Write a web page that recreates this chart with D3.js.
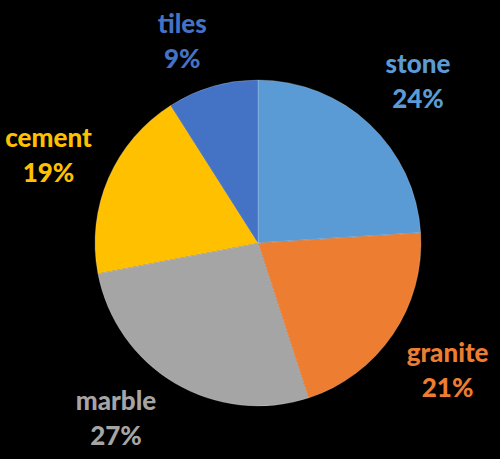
<!DOCTYPE html>
<html>
<head>
<meta charset="utf-8">
<script src="https://cdn.jsdelivr.net/npm/d3@7"></script>
<style>
  html, body { margin: 0; padding: 0; background: #000; }
  svg { display: block; }
</style>
</head>
<body>
<svg id="chart" width="500" height="459"></svg>
<script>
// Data
const categories = ["stone", "granite", "marble", "cement", "tiles"];
const values = [24, 21, 27, 19, 9];
const colors = ["#5B9BD5", "#ED7D31", "#A5A5A5", "#FFC000", "#4472C4"];

// Layout
const W = 500, H = 459;
const cx = 258, cy = 243, R = 163;
const labelR = 225;
const labelNudge = {
  stone: [6, 12], granite: [3.5, 10.5], marble: [-27.5, -8.7],
  cement: [-3, 11], tiles: [-13, 23.5]
};

const svg = d3.select("#chart");
svg.append("rect").attr("width", W).attr("height", H).attr("fill", "#000");

const data = categories.map((c, i) => ({ name: c, value: values[i], color: colors[i] }));
const pie = d3.pie().value(d => d.value).sort(null);
const arcs = pie(data);
const arc = d3.arc().innerRadius(0).outerRadius(R);
const labelArc = d3.arc().innerRadius(labelR).outerRadius(labelR);

const g = svg.append("g").attr("transform", `translate(${cx},${cy})`);
g.selectAll("path.slice").data(arcs).enter().append("path")
  .attr("class", "slice")
  .attr("d", arc)
  .attr("fill", d => d.data.color)
  .attr("stroke", "rgba(255,255,255,0.25)")
  .attr("stroke-width", 0.8);

const total = d3.sum(values);
const lab = g.selectAll("text.lbl").data(arcs).enter().append("text")
  .attr("class", "lbl")
  .attr("text-anchor", "middle")
  .attr("font-family", "Lato, 'Open Sans', sans-serif")
  .attr("font-weight", 900)
  .attr("font-size", 26)
  .attr("fill", d => d.data.color)
  .attr("transform", d => {
    const [x, y] = labelArc.centroid(d);
    const n = labelNudge[d.data.name];
    return `translate(${x + n[0]},${y + n[1]})`;
  });
lab.append("tspan").attr("x", 0).attr("y", -17.5).text(d => d.data.name);
lab.append("tspan").attr("x", 0).attr("y", 17.5).text(d => Math.round(d.data.value / total * 100) + "%");
</script>
</body>
</html>
